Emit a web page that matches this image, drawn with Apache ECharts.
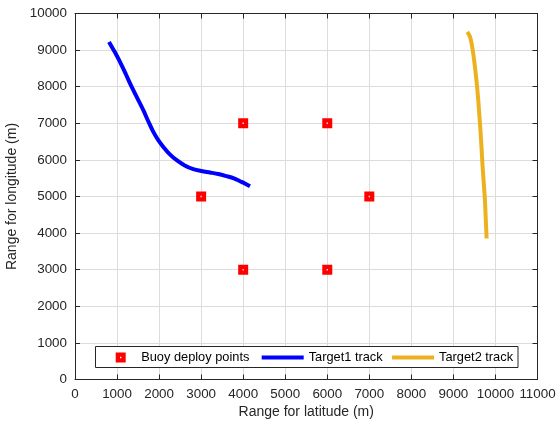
<!DOCTYPE html>
<html>
<head>
<meta charset="utf-8">
<script src="https://cdn.jsdelivr.net/npm/echarts@6/dist/echarts.min.js"></script>
<style>
  html, body { margin: 0; padding: 0; background: #fff; }
  #chart { width: 558px; height: 427px; }
</style>
</head>
<body>
<div id="chart"></div>
<script>
// buoy positions (m)
var buoyX = [3000, 4000, 6000, 7000, 4000, 6000];
var buoyY = [5000, 7000, 7000, 5000, 3000, 3000];

// target 1 track
var t1X = [808, 940, 1070, 1210, 1348, 1490, 1625, 1745, 1863, 1980, 2101, 2250, 2418, 2610, 2814, 3010, 3210, 3410, 3607, 3780, 3924, 4050, 4162];
var t1Y = [9224, 8960, 8678, 8340, 7995, 7670, 7358, 7050, 6765, 6540, 6355, 6160, 5992, 5850, 5746, 5695, 5656, 5615, 5555, 5495, 5418, 5350, 5281];

// target 2 track
var t2X = [9330, 9390, 9433, 9475, 9512, 9555, 9591, 9620, 9648, 9672, 9695, 9723, 9750, 9770, 9790];
var t2Y = [9497, 9380, 9180, 8880, 8541, 8090, 7631, 7175, 6721, 6265, 5809, 5350, 4896, 4370, 3852];

var names = ['Buoy deploy points', 'Target1 track', 'Target2 track'];

// red square with a small white hole in the middle
var buoyIcon = 'path://M0,0H10V10H0Z M4.3,4.3V5.7H5.7V4.3Z';
var lineIcon = 'path://M0,0H42V4H0Z';

function pairs(xs, ys) {
    var out = [];
    for (var i = 0; i < xs.length; i++) {
        out.push([xs[i], ys[i]]);
    }
    return out;
}

var axisCol = '#262626';
var font = 'Liberation Sans, Arial, sans-serif';

function mkAxis(pos, max, showLabel, name, gap) {
    return {
        type: 'value',
        position: pos,
        min: 0,
        max: max,
        interval: 1000,
        name: name,
        nameLocation: 'middle',
        nameGap: gap,
        nameTextStyle: { color: axisCol, fontSize: 14, fontFamily: font },
        axisLine: { show: true, onZero: false, lineStyle: { color: axisCol, width: 1 } },
        axisTick: { show: true, inside: true, length: 5, lineStyle: { color: axisCol } },
        axisLabel: {
            show: showLabel, color: axisCol, fontSize: 13.4, fontFamily: font, margin: 8,
            formatter: function (v) { return String(v); }
        },
        splitLine: { show: showLabel, lineStyle: { color: '#dcdcdc', width: 1 } }
    };
}

function mkLegend(left, width, items, gap) {
    return {
        left: left,
        top: 351,
        z: 20,
        orient: 'horizontal',
        itemWidth: width,
        itemHeight: 10,
        itemGap: gap,
        padding: 0,
        textStyle: { color: '#000', fontSize: 12.8, fontFamily: font },
        data: items
    };
}

var chart = echarts.init(document.getElementById('chart'));
var option = {
    animation: false,
    backgroundColor: '#fff',
    grid: { left: 75, right: 20.5, top: 13.5, bottom: 47.5, containLabel: false, outerBoundsMode: 'none' },
    xAxis: [
        mkAxis('bottom', 11000, true, 'Range for latitude (m)', 24),
        mkAxis('top', 11000, false, '', 0)
    ],
    yAxis: [
        mkAxis('left', 10000, true, 'Range for longitude (m)', 52),
        mkAxis('right', 10000, false, '', 0)
    ],
    graphic: [{
        type: 'rect',
        shape: { x: 95.5, y: 346.5, width: 422.5, height: 21 },
        style: { fill: '#fff', stroke: axisCol, lineWidth: 1 },
        z: 3
    }],
    legend: [
        mkLegend(115.7, 31, [{ name: names[0], icon: buoyIcon }], 9),
        mkLegend(261.7, 42, [{ name: names[1], icon: lineIcon }, { name: names[2], icon: lineIcon }], 9.4)
    ],
    series: [
        {
            name: names[0],
            type: 'scatter',
            symbol: buoyIcon,
            symbolSize: 10,
            itemStyle: { color: '#ff0000', opacity: 1 },
            data: pairs(buoyX, buoyY),
            z: 5
        },
        {
            name: names[1],
            type: 'line',
            smooth: 0.3,
            symbol: 'none',
            lineStyle: { color: '#0000ff', width: 4 },
            itemStyle: { color: '#0000ff' },
            data: pairs(t1X, t1Y)
        },
        {
            name: names[2],
            type: 'line',
            smooth: 0.3,
            symbol: 'none',
            lineStyle: { color: '#edb120', width: 4 },
            itemStyle: { color: '#edb120' },
            data: pairs(t2X, t2Y)
        }
    ]
};
chart.setOption(option);
</script>
</body>
</html>
